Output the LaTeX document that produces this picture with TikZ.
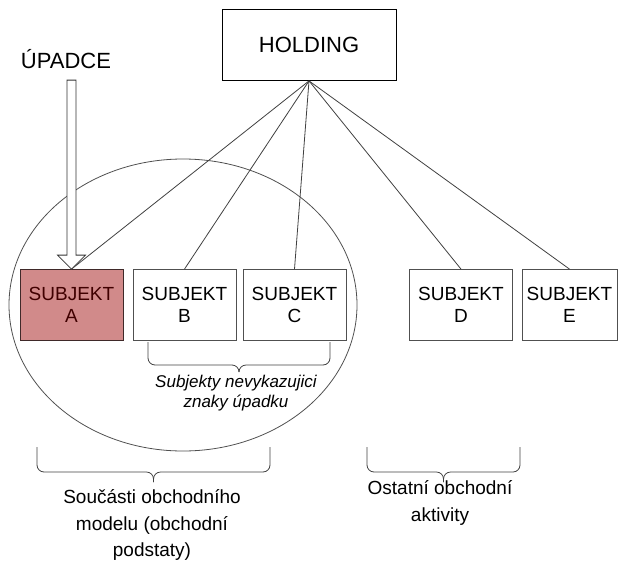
\documentclass[tikz,border=0pt]{standalone}
\usepackage{fontspec}
\setmainfont{Liberation Sans}
\usetikzlibrary{shapes.geometric,calc}
\definecolor{upadek}{RGB}{209,138,138}
\definecolor{okraj}{RGB}{80,80,80}
\tikzset{
    subjektnode/.style={
        rectangle,
        draw=okraj, % 边框为灰色
        thick,
        minimum width=103pt,
        minimum height=71pt,
        inner sep=0,
        align=center,
        font=\fontsize{19}{22}\selectfont
    },
    upadeknode/.style={
        subjektnode,
        fill=upadek, % 填充为浅红色
        draw=black!70!upadek,
        text=black!75!red
    },
    popisnode/.style={
        align=center,
        inner sep=0,
        font=\fontsize{19}{26.5}\selectfont
    },
    spoj/.style={
        draw=black!75, % 连线为深灰色
        line width=0.8pt
    }
}
% 花括号: x1, x2, 上端 y, 横线 y, 尖端 y
\newcommand{\zavorka}[5]{%
    \draw[spoj, rounded corners=7pt] (#1,#3) -- (#1,#4) -- ({(#1+#2)/2},#4) -- ({(#1+#2)/2},#5);
    \draw[spoj, rounded corners=7pt] (#2,#3) -- (#2,#4) -- ({(#1+#2)/2},#4) -- ({(#1+#2)/2},#5);
}

\begin{document}
\begin{tikzpicture}[
                x=1pt, y=-1pt
            ]
            \useasboundingbox (0,0) rectangle (618,565);
            % 控股公司
            \node[draw=black, thick, minimum width=174pt, minimum height=71pt,
                  font=\fontsize{22}{24}\selectfont] (holding) at (309,45) {HOLDING};
            \node[font=\fontsize{22}{24}\selectfont] (upadce) at (66,59) {ÚPADCE};
            % 子公司
            \node[upadeknode] (A) at (71.5,305) {SUBJEKT\\A};
            \node[subjektnode] (B) at (184.5,305) {SUBJEKT\\B};
            \node[subjektnode] (C) at (294.5,305) {SUBJEKT\\C};
            \node[subjektnode] (D) at (461,305) {SUBJEKT\\D};
            \node[subjektnode, minimum width=95pt] (E) at (569.5,305) {SUBJEKT\\E};
            % 业务模型的组成部分
            \node[draw=okraj, line width=0.8pt, ellipse, minimum width=348pt, minimum height=292pt] (jadro) at (183,305) {};
            \foreach \s in {A,B,C,D,E}
                \draw[spoj] (holding.south) -- (\s.north);
            % 空心箭头
            \draw[spoj, fill=white, draw=black!80] (A.north) -- ++(-14,-14) -- ++(9.5,0) -- ++(0,-175)
                -- ++(9,0) -- ++(0,175) -- ++(9.5,0) -- cycle;
            % 括号与说明
            \zavorka{148}{330}{342}{365}{372}
            \zavorka{37}{270}{447}{472}{482}
            \zavorka{367}{520}{447}{472}{482}
            \node[popisnode, font={\itshape\fontsize{17}{20}\selectfont}] (nevykaz) at (236,393)
                {Subjekty nevykazujici\\znaky úpadku};
            \node[popisnode] (soucast) at (152,525) {Součásti obchodního\\modelu (obchodní\\podstaty)};
            \node[popisnode] (ostatni) at (440,503) {Ostatní obchodní\\aktivity};
\end{tikzpicture}
\end{document}
